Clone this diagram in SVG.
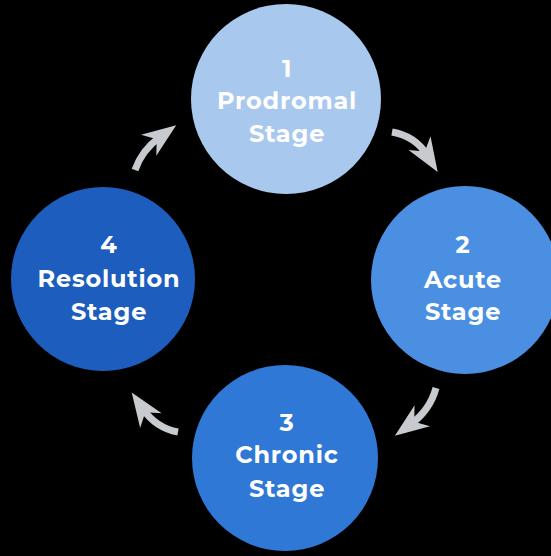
<svg xmlns="http://www.w3.org/2000/svg" width="551" height="556" viewBox="0 0 551 556">
<style>
.lbl{font-family:"Montserrat","Open Sans","Liberation Sans",sans-serif;font-weight:700;font-size:24px;letter-spacing:0.8px;fill:#ffffff;text-anchor:middle}
.arr{fill:none;stroke:#c7cbd0;stroke-width:7;stroke-linecap:butt}
</style>
<defs>
<marker id="head" markerUnits="userSpaceOnUse" viewBox="-36 -15 38 30" markerWidth="38" markerHeight="30" refX="-20" refY="0" orient="auto">
<path d="M0,0 L-34,-13 L-24,0 L-34,13 Z" fill="#c7cbd0"/>
</marker>
</defs>
<rect width="551" height="556" fill="#000000"/>
<g id="connectors">
<path class="arr" d="M135,170 Q142,150 160,137" marker-end="url(#head)"/>
<path class="arr" d="M392,132 Q415,136 427,155" marker-end="url(#head)"/>
<path class="arr" d="M436,388 Q430,410 411,424" marker-end="url(#head)"/>
<path class="arr" d="M178,432 Q156,428 143,409" marker-end="url(#head)"/>
</g>
<g id="node1">
<circle cx="286" cy="99" r="95" fill="#a9c8ee"/>
<text class="lbl" x="287" y="77">1</text>
<text class="lbl" x="287" y="109">Prodromal</text>
<text class="lbl" x="287" y="142">Stage</text>
</g>
<g id="node2">
<circle cx="465" cy="280" r="94" fill="#4a8fe2"/>
<text class="lbl" x="463" y="253">2</text>
<text class="lbl" x="463" y="288">Acute</text>
<text class="lbl" x="463" y="320">Stage</text>
</g>
<g id="node3">
<circle cx="285" cy="458" r="93" fill="#2f78d6"/>
<text class="lbl" x="287" y="431">3</text>
<text class="lbl" x="287" y="463">Chronic</text>
<text class="lbl" x="287" y="497">Stage</text>
</g>
<g id="node4">
<circle cx="103" cy="279" r="92" fill="#1c5dbd"/>
<text class="lbl" x="109" y="253">4</text>
<text class="lbl" x="109" y="287">Resolution</text>
<text class="lbl" x="109" y="320">Stage</text>
</g>
</svg>
